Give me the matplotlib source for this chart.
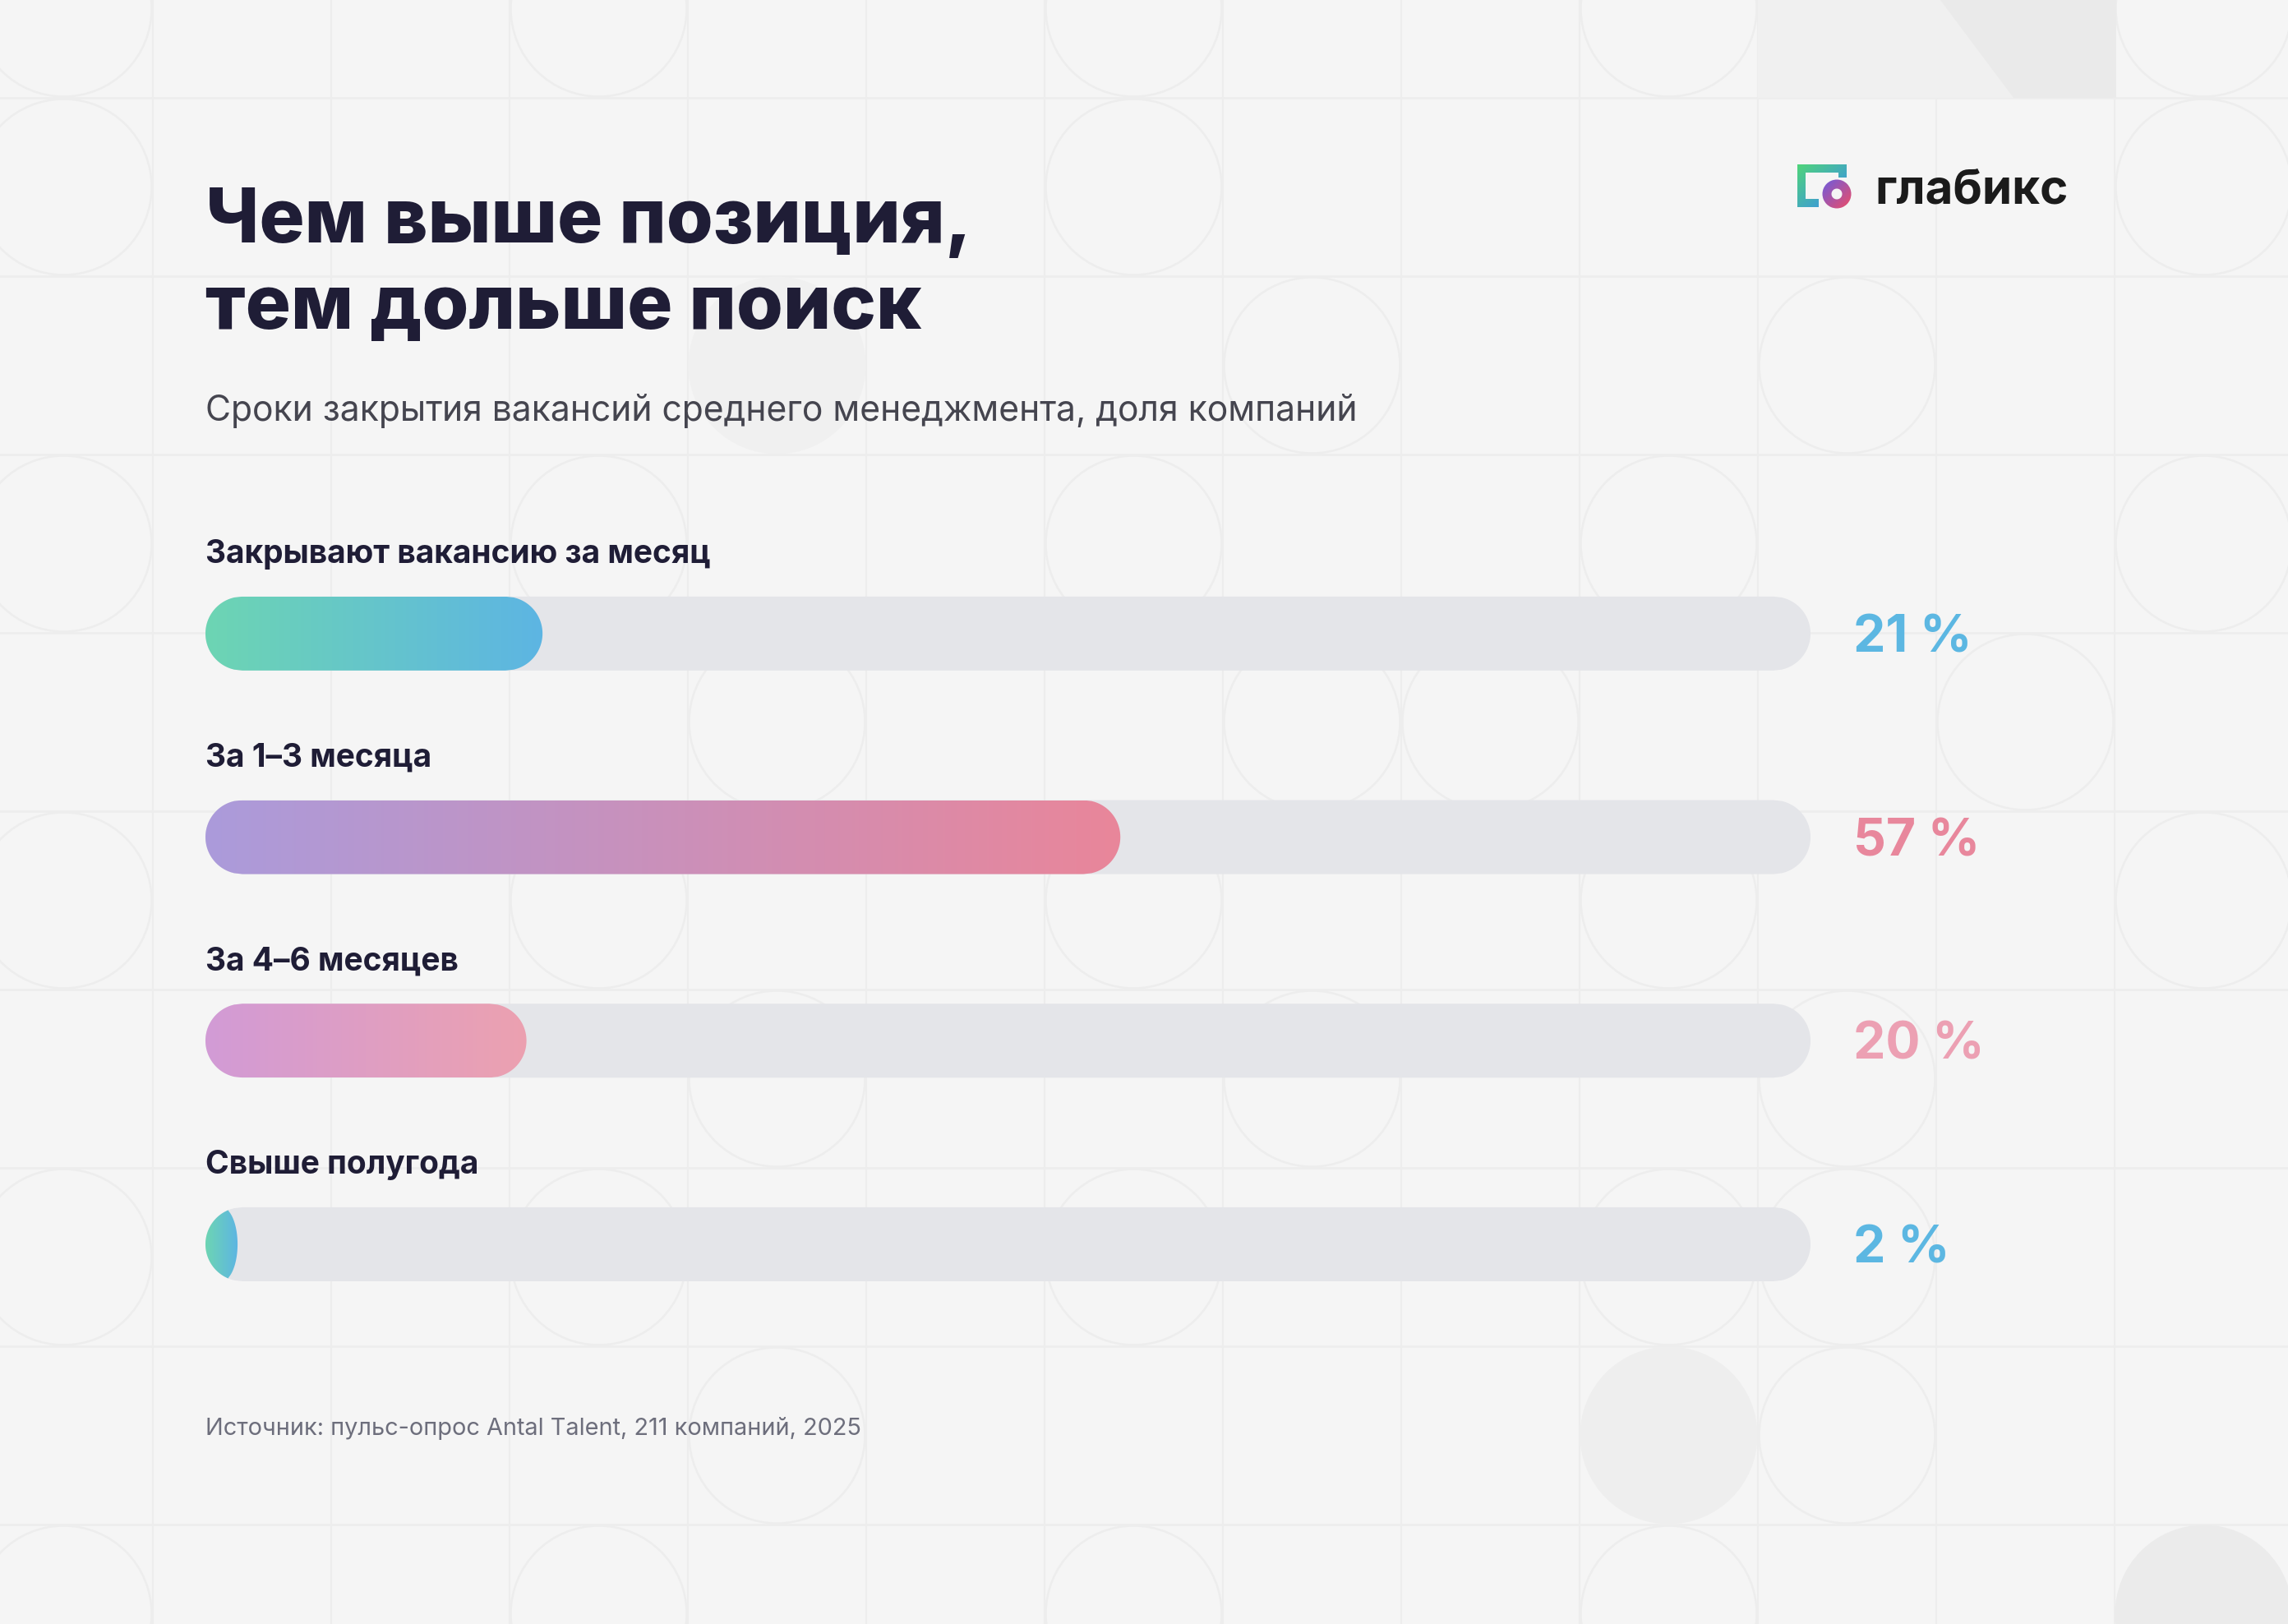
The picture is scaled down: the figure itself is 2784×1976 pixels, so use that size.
import numpy as np
import matplotlib.pyplot as plt
from matplotlib.patches import Polygon, Circle, Annulus, Rectangle
from matplotlib.colors import to_rgb

# data
categories = ['Закрывают вакансию за месяц', 'За 1–3 месяца', 'За 4–6 месяцев', 'Свыше полугода']
values = [21, 57, 20, 2]
value_labels = ['21 %', '57 %', '20 %', '2 %']
grad_start = ['#6dd5b3', '#ab9bdb', '#d29bd6', '#6dd5b3']
grad_end = ['#5db5e3', '#e9869a', '#eca1b0', '#5db5e3']
label_colors = ['#5cb7e2', '#e8879c', '#eca0b3', '#5cb7e2']

title_lines = ['Чем выше позиция,', 'тем дольше поиск']
subtitle = 'Сроки закрытия вакансий среднего менеджмента, доля компаний'
source = 'Источник: пульс-опрос Antal Talent, 211 компаний, 2025'

W, H = 2784, 1976
BG = '#f5f5f5'
DARK = '#1f1d36'
FONT = ['Inter', 'DejaVu Sans']

plt.rcParams['font.family'] = FONT

fig = plt.figure(figsize=(W / 100, H / 100), dpi=100, facecolor=BG)

# background axes in pixel coordinates
bg = fig.add_axes([0, 0, 1, 1], zorder=0)
bg.set_xlim(0, W)
bg.set_ylim(H, 0)
bg.axis('off')

line_c = '#ededed'
step = 217
for k in range(10):
    bg.axhline(119 + step * k, color=line_c, lw=1.8, zorder=0)
for k in range(13):
    bg.axvline(186 + step * k, color=line_c, lw=1.6, zorder=0)

rings = {0: [0, 3, 6, 9, 12], 1: [0, 6, 12], 2: [7, 10], 3: [0, 3, 6, 9, 12],
         4: [4, 7, 8, 11], 5: [0, 3, 6, 9, 12], 6: [4, 7, 10], 7: [0, 3, 6, 9, 10],
         8: [4, 10], 9: [0, 3, 6, 9]}
filled = [(2, 4, '#f0f0f0'), (8, 9, '#eeeeee'), (9, 12, '#ebebeb')]
cx = lambda c: 186 + step * (c - 0.5)
cy = lambda r: 119 + step * (r - 0.5)
for r, cols in rings.items():
    for c in cols:
        bg.add_patch(Circle((cx(c), cy(r)), 107, fill=False, ec=line_c, lw=1.8, zorder=0))
for r, c, col in filled:
    bg.add_patch(Circle((cx(c), cy(r)), 108, fc=col, ec='none', zorder=0.5))

# top right block
bg.add_patch(Rectangle((2139, 0), 436, 119, fc='#f0f0f0', ec='none', zorder=0.6))
bg.add_patch(Polygon([(2361, 0), (2575, 0), (2575, 119), (2450, 119)], closed=True,
                     fc='#eaeaea', ec='none', zorder=0.7))

# titles
bg.text(250, 295, title_lines[0], fontsize=66.3, fontweight='heavy', color=DARK, va='baseline', zorder=3)
bg.text(250, 400, title_lines[1], fontsize=66.3, fontweight='heavy', color=DARK, va='baseline', zorder=3)
bg.text(250, 500, subtitle, fontsize=30.7, color='#45454f', va='center', zorder=3)
bg.text(250, 1738, source, fontsize=20.8, color='#6d6e7c', va='center', zorder=3)

# logo
def grad2d(c1, c2, n=64):
    a, b = np.array(to_rgb(c1)), np.array(to_rgb(c2))
    u = np.linspace(0, 1, n)
    t = (u[None, :] + u[:, None]) / 2
    return a * (1 - t[..., None]) + b * t[..., None]

frame = Polygon([(2187, 200), (2247, 200), (2247, 216), (2237, 216), (2237, 210),
                 (2197, 210), (2197, 242), (2213, 242), (2213, 252), (2187, 252)],
                closed=True, fc='none', ec='none')
bg.add_patch(frame)
im = bg.imshow(grad2d('#4fd47a', '#3a8af2'), extent=[2187, 2247, 252, 200], aspect='auto', zorder=3)
im.set_clip_path(frame)
ring = Annulus((2235, 236), 17.5, 11, fc='none', ec='none')
bg.add_patch(ring)
im = bg.imshow(grad2d('#6c5ce0', '#ee4d66'), extent=[2217, 2253, 254, 218], aspect='auto', zorder=4)
im.set_clip_path(ring)
bg.text(2281, 247, 'глабикс', fontsize=42, fontweight='bold', color='#1b1b1b', va='baseline', zorder=3)
bg.set_xlim(0, W)
bg.set_ylim(H, 0)

# bars axes: x in percent
x0_px, x1_px = 250, 2203
top_px, row_px = 647, 247.7
ax = fig.add_axes([x0_px / W, 1 - (top_px + 4 * row_px) / H, (x1_px - x0_px) / W, 4 * row_px / H], zorder=2)
ax.set_xlim(0, 100)
ax.set_ylim(3.5, -0.5)
ax.axis('off')

rx = 45 / ((x1_px - x0_px) / 100)
ry = 45 / row_px


def pill(x0, x1, yc, rl, rr, n=80):
    t = np.linspace(-1, 1, n)
    s = np.sqrt(1 - t ** 2)
    left = x0 + rl * (1 - s)
    right = np.maximum(x1 - rr * (1 - s), left)
    ys = yc + t * ry
    return np.column_stack([np.concatenate([left, right[::-1]]), np.concatenate([ys, ys[::-1]])])


for i, (cat, v) in enumerate(zip(categories, values)):
    ax.add_patch(Polygon(pill(0, 100, i, rx, rx), closed=True, fc='#e4e5e9', ec='none', zorder=1))
    shape = Polygon(pill(0, v, i, rx, min(rx, v / 2)), closed=True, fc='none', ec='none')
    ax.add_patch(shape)
    a, b = np.array(to_rgb(grad_start[i])), np.array(to_rgb(grad_end[i]))
    t = np.linspace(0, 1, 256)[None, :, None]
    img = a * (1 - t) + b * t
    im = ax.imshow(img, extent=[0, v, i + ry, i - ry], aspect='auto', zorder=2, interpolation='bilinear')
    im.set_clip_path(shape)
    ax.text(0, i - 0.39, cat, fontsize=28, fontweight='bold', color=DARK, va='center', ha='left')
    ax.text(102.66, i + 0.025, value_labels[i], fontsize=45, fontweight='bold', color=label_colors[i],
            va='center', ha='left', clip_on=False)

ax.set_xlim(0, 100)
ax.set_ylim(3.5, -0.5)

fig.savefig('out.png', dpi=100, facecolor=BG)
